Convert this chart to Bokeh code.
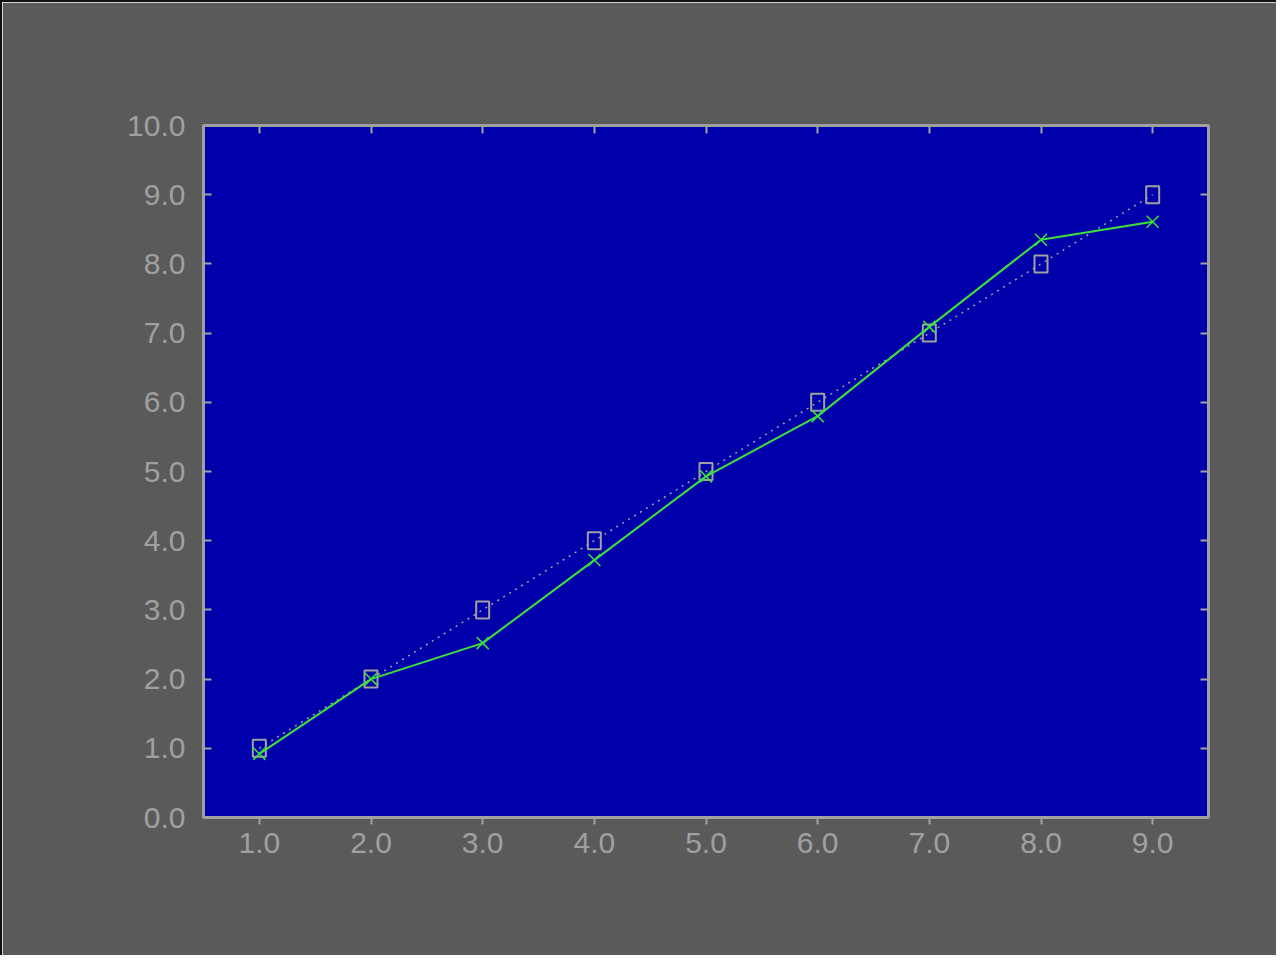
from bokeh.plotting import figure
from bokeh.models import LinearAxis, Range1d, FixedTicker, CustomJSTickFormatter
from bokeh.embed import file_html
from bokeh.resources import INLINE

# Data
x_vals = [1, 2, 3, 4, 5, 6, 7, 8, 9]
series_square = [1.0, 2.0, 3.0, 4.0, 5.0, 6.0, 7.0, 8.0, 9.0]
series_cross = [0.92, 2.0, 2.52, 3.72, 4.93, 5.80, 7.09, 8.35, 8.61]
x_ticks = [1, 2, 3, 4, 5, 6, 7, 8, 9]
y_ticks = [0, 1, 2, 3, 4, 5, 6, 7, 8, 9, 10]

BG = "#5a5a5a"
PLOT_BG = "#0000aa"
GRAY = "#a0a0a0"
GREEN = "#3ce23c"
FONT = "Liberation Sans"

p = figure(width=1276, height=955, output_backend="svg", toolbar_location=None,
           x_range=Range1d(0.5, 9.5), y_range=Range1d(0, 10),
           background_fill_color=PLOT_BG, border_fill_color=BG,
           min_border_left=201, min_border_top=123, min_border_right=70,
           min_border_bottom=140)
p.styles = {"border-left": "2px solid #111111", "border-top": "2px solid #111111"}
p.grid.visible = False
p.outline_line_color = GRAY
p.outline_line_width = 3

fmt = CustomJSTickFormatter(code="return tick.toFixed(1);")

def style_axis(ax, tin, tout, labels=True):
    ax.axis_line_color = None
    ax.major_tick_line_color = GRAY
    ax.major_tick_line_width = 2
    ax.major_tick_in = tin
    ax.major_tick_out = tout
    ax.minor_tick_line_color = None
    ax.major_label_text_color = GRAY
    ax.major_label_text_font = FONT
    ax.major_label_text_font_size = "30px"
    ax.formatter = fmt
    if not labels:
        ax.major_label_text_alpha = 0
        ax.major_label_text_font_size = "1px"

p.xaxis.ticker = FixedTicker(ticks=x_ticks)
p.yaxis.ticker = FixedTicker(ticks=y_ticks)
style_axis(p.xaxis[0], 0, 7)
style_axis(p.yaxis[0], 8, 0)
p.xaxis[0].major_label_standoff = 8
p.yaxis[0].major_label_standoff = 18

top = LinearAxis(ticker=FixedTicker(ticks=x_ticks))
right = LinearAxis(ticker=FixedTicker(ticks=y_ticks))
style_axis(top, 8, 0, labels=False)
style_axis(right, 8, 0, labels=False)
p.add_layout(top, "above")
p.add_layout(right, "right")

# square series (dotted gray)
p.line(x_vals, series_square, line_color=GRAY, line_dash="2 5", line_width=1.5)
p.rect(x_vals, series_square, width=13, height=17, width_units="screen",
       height_units="screen", fill_color=None, line_color=GRAY, line_width=2)

# cross series (solid green)
p.line(x_vals, series_cross, line_color=GREEN, line_width=2)
p.scatter(x_vals, series_cross, marker="x", size=17, line_color=GREEN, line_width=1.5)

open("out.html", "w").write(file_html(p, INLINE))
